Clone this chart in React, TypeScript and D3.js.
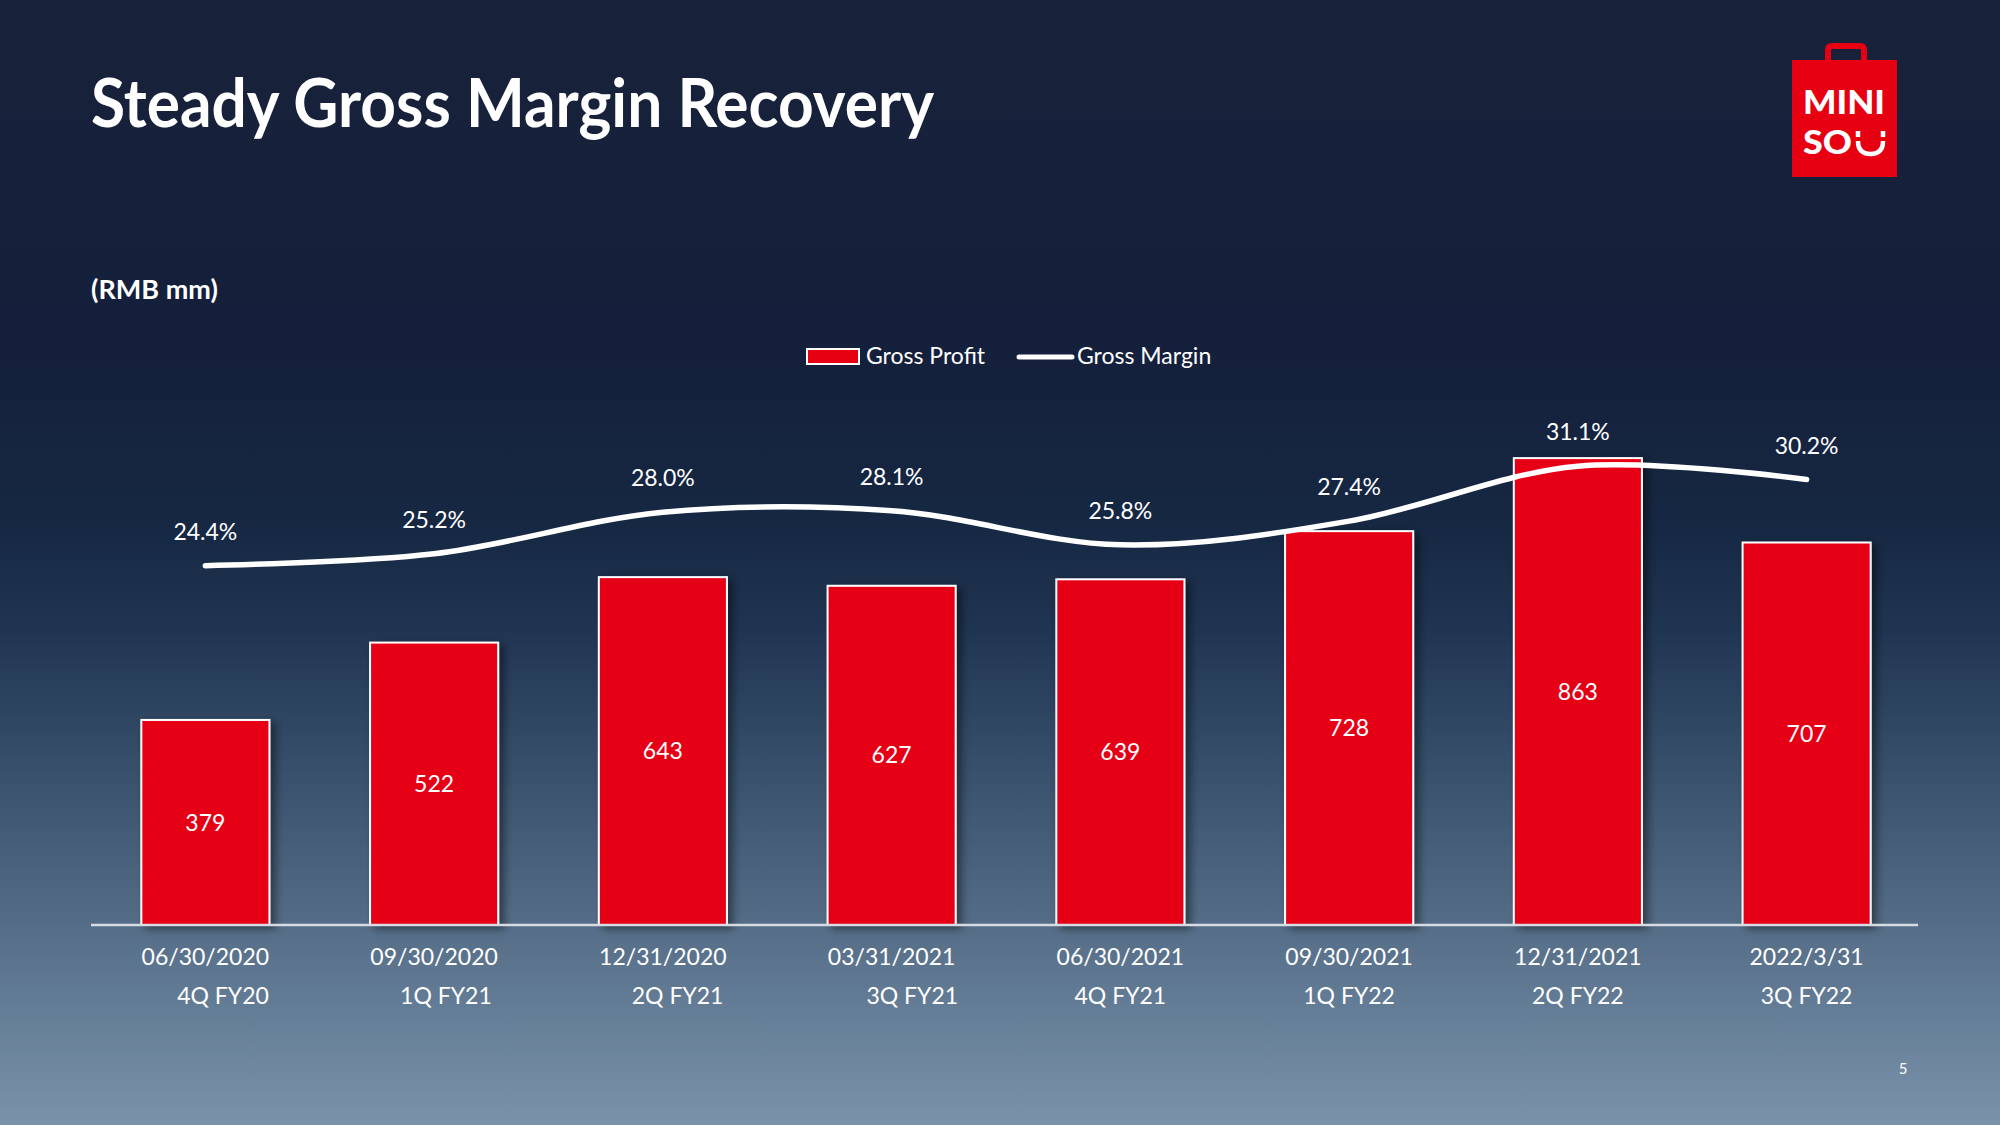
import React from 'react';
import * as d3 from 'd3';

const dates = ['06/30/2020', '09/30/2020', '12/31/2020', '03/31/2021', '06/30/2021', '09/30/2021', '12/31/2021', '2022/3/31'];
const quarters = ['      4Q FY20', '    1Q FY21', '     2Q FY21', '       3Q FY21', '4Q FY21', '1Q FY22', '2Q FY22', '3Q FY22'];
const grossProfit = [379, 522, 643, 627, 639, 728, 863, 707];
const grossMargin = [0.244, 0.252, 0.28, 0.281, 0.258, 0.274, 0.311, 0.302];
const seriesNames = ['Gross Profit', 'Gross Margin'];
const titleText = 'Steady Gross Margin Recovery';
const unitText = '(RMB mm)';
const pageNumber = '5';

const W = 2000;
const H = 1125;
const RED = '#e60012';
const FONT = 'Lato, "Open Sans", "Noto Sans", sans-serif';

export default function App() {
  const idx = dates.map((_, i) => i);
  const x = d3.scaleBand<number>().domain(idx).range([91, 1921]).paddingInner(0.44).paddingOuter(0.22);
  const yBar = d3.scaleLinear().domain([0, 1000]).range([925, 384]);
  const yLine = d3.scaleLinear().domain([0, 0.4]).range([928, 334]);
  const cx = (i: number) => (x(i) as number) + x.bandwidth() / 2;

  const linePath = d3
    .line<number>()
    .x((_, i) => cx(i))
    .y((d) => yLine(d))
    .curve(d3.curveCatmullRom.alpha(0.5))(grossMargin) as string;

  const pct = d3.format('.1%');

  return (
    <svg
      width={W}
      height={H}
      viewBox={`0 0 ${W} ${H}`}
      style={{ position: 'absolute', left: 0, top: 0, display: 'block' }}
      fontFamily={FONT}
    >
      <defs>
        <linearGradient id="bg" x1="0" y1="0" x2="0" y2="1">
          <stop offset="0" stopColor="#18223a" />
          <stop offset="0.3" stopColor="#141f3b" />
          <stop offset="0.47" stopColor="#162843" />
          <stop offset="0.56" stopColor="#203552" />
          <stop offset="0.67" stopColor="#354d68" />
          <stop offset="0.8" stopColor="#506882" />
          <stop offset="1" stopColor="#7a93ab" />
        </linearGradient>
        <filter id="shadow" x="-20%" y="-10%" width="150%" height="130%">
          <feDropShadow dx="5" dy="3" stdDeviation="4" floodColor="#000000" floodOpacity="0.45" />
        </filter>
      </defs>
      <rect x={0} y={0} width={W} height={H} fill="url(#bg)" />

      {/* Title */}
      <text x={91} y={127} fill="#ffffff" fontSize={66} fontWeight={700} textLength={843} lengthAdjust="spacingAndGlyphs">
        {titleText}
      </text>
      <text x={91} y={299} fill="#ffffff" fontSize={27} fontWeight={700}>
        {unitText}
      </text>

      {/* Logo */}
      <g>
        <path d="M1828 62 V50 Q1828 46 1832 46 H1860 Q1864 46 1864 50 V62" fill="none" stroke={RED} strokeWidth={6} />
        <rect x={1792} y={60} width={105} height={117} fill={RED} />
        <text x={1803} y={114} fill="#ffffff" fontSize={32} fontWeight={900} textLength={82} lengthAdjust="spacingAndGlyphs">
          MINI
        </text>
        <text x={1803} y={154} fill="#ffffff" fontSize={32} fontWeight={900} textLength={49} lengthAdjust="spacingAndGlyphs">
          SO
        </text>
        <line x1={1858} y1={131} x2={1858} y2={137} stroke="#ffffff" strokeWidth={4.5} />
        <line x1={1883} y1={131} x2={1883} y2={137} stroke="#ffffff" strokeWidth={4.5} />
        <path d="M1858 141 Q1858 154 1870.5 154 Q1883 154 1883 141" fill="none" stroke="#ffffff" strokeWidth={4.5} />
      </g>

      {/* Legend */}
      <g>
        <rect x={807} y={349} width={52} height={15} fill={RED} stroke="#ffffff" strokeWidth={2} />
        <text x={866} y={364} fill="#ffffff" fontSize={23}>
          {seriesNames[0]}
        </text>
        <line x1={1019} y1={357} x2={1072} y2={357} stroke="#ffffff" strokeWidth={5} strokeLinecap="round" />
        <text x={1077} y={364} fill="#ffffff" fontSize={23}>
          {seriesNames[1]}
        </text>
      </g>

      {/* Bars */}
      <g filter="url(#shadow)">
        {grossProfit.map((v, i) => (
          <rect
            key={i}
            x={x(i) as number}
            y={yBar(v)}
            width={x.bandwidth()}
            height={yBar(0) - yBar(v)}
            fill={RED}
            stroke="#ffffff"
            strokeWidth={2}
          />
        ))}
      </g>
      {grossProfit.map((v, i) => (
        <text
          key={i}
          x={cx(i)}
          y={(yBar(v) + yBar(0)) / 2}
          dy="0.35em"
          textAnchor="middle"
          fill="#ffffff"
          fontSize={23}
        >
          {v}
        </text>
      ))}

      {/* Axis line */}
      <line x1={91} y1={925} x2={1918} y2={925} stroke="#d6dce4" strokeWidth={2.5} />

      {/* Gross margin line */}
      <path d={linePath} fill="none" stroke="#ffffff" strokeWidth={5.5} strokeLinecap="round" />
      {grossMargin.map((v, i) => (
        <text key={i} x={cx(i)} y={yLine(v) - 34} dy="0.35em" textAnchor="middle" fill="#ffffff" fontSize={23}>
          {pct(v)}
        </text>
      ))}

      {/* Category labels */}
      {dates.map((d, i) => (
        <text key={i} x={cx(i)} y={957} dy="0.35em" textAnchor="middle" fill="#ffffff" fontSize={23}>
          {d}
        </text>
      ))}
      {quarters.map((q, i) => (
        <text
          key={i}
          x={cx(i)}
          y={996}
          dy="0.35em"
          textAnchor="middle"
          fill="#ffffff"
          fontSize={23}
          style={{ whiteSpace: 'pre' }}
        >
          {q}
        </text>
      ))}

      <text x={1903} y={1069} dy="0.35em" textAnchor="middle" fill="#ffffff" fontSize={15}>
        {pageNumber}
      </text>
    </svg>
  );
}
